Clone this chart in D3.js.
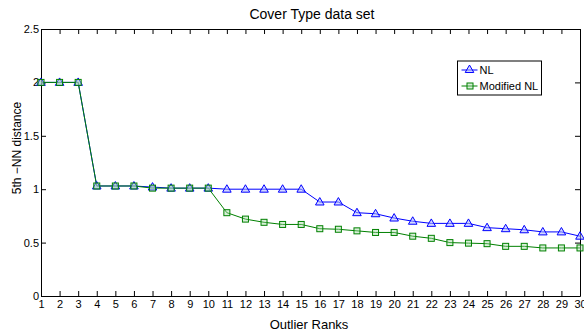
<!DOCTYPE html>
<html>
<head>
<meta charset="utf-8">
<script src="https://cdn.jsdelivr.net/npm/d3@7"></script>
<style>
  body { margin: 0; background: #fff; }
  text { font-family: "Liberation Sans", Arial, sans-serif; fill: #000; }
</style>
</head>
<body>
<div id="chart"></div>
<script>
// Cover Type data set
const ranks = d3.range(1, 31);
const nl = [2.0, 2.0, 2.0, 1.03, 1.03, 1.03, 1.02, 1.01, 1.01, 1.01,
            1.0, 1.0, 1.0, 1.0, 1.0, 0.88, 0.88, 0.78, 0.77, 0.73,
            0.70, 0.68, 0.68, 0.68, 0.64, 0.63, 0.62, 0.60, 0.60, 0.56];
const modNl = [2.0, 2.0, 2.0, 1.03, 1.03, 1.03, 1.01, 1.01, 1.01, 1.01,
               0.78, 0.72, 0.69, 0.67, 0.67, 0.63, 0.625, 0.61, 0.595, 0.595,
               0.56, 0.54, 0.50, 0.495, 0.49, 0.465, 0.465, 0.45, 0.45, 0.45];
const yTicks = [0, 0.5, 1, 1.5, 2, 2.5];

const width = 584, height = 335;
const margin = {top: 29, right: 4, bottom: 39, left: 41};

const svg = d3.select("#chart")
    .append("svg")
    .attr("width", width)
    .attr("height", height);

const x = d3.scaleLinear().domain([1, 30]).range([margin.left, width - margin.right]);
const y = d3.scaleLinear().domain([0, 2.5]).range([height - margin.bottom, margin.top]);

// axes, ticks pointing inward like matlab
svg.append("g")
    .attr("transform", `translate(0,${y(0)})`)
    .call(d3.axisBottom(x).tickValues(ranks).tickFormat(d3.format("d")).tickSizeInner(-5).tickSizeOuter(0).tickPadding(4))
    .call(g => g.selectAll("text").attr("font-size", "11px"));

svg.append("g")
    .attr("transform", `translate(0,${y(2.5)})`)
    .call(d3.axisTop(x).tickValues(ranks).tickFormat("").tickSizeInner(-5).tickSizeOuter(0));

svg.append("g")
    .attr("transform", `translate(${x(1)},0)`)
    .call(d3.axisLeft(y).tickValues(yTicks).tickFormat(d => d).tickSizeInner(-5).tickSizeOuter(0).tickPadding(2))
    .call(g => g.selectAll("text").attr("font-size", "11px"));

svg.append("g")
    .attr("transform", `translate(${x(30)},0)`)
    .call(d3.axisRight(y).tickValues(yTicks).tickFormat("").tickSizeInner(-5).tickSizeOuter(0));

svg.selectAll(".domain").attr("stroke", "#000").attr("stroke-width", 1);
svg.selectAll(".tick line").attr("stroke", "#000");

// lines
const line = d3.line().x((d, i) => x(ranks[i])).y(d => y(d));

svg.append("path")
    .datum(nl)
    .attr("fill", "none")
    .attr("stroke", "#0000ff")
    .attr("stroke-width", 1)
    .attr("d", line);

svg.append("path")
    .datum(modNl)
    .attr("fill", "none")
    .attr("stroke", "#008000")
    .attr("stroke-width", 1)
    .attr("d", line);

const tri = d3.symbol().type(d3.symbolTriangle).size(32);

svg.append("g")
    .selectAll("path")
    .data(nl)
    .enter().append("path")
    .attr("d", tri)
    .attr("transform", (d, i) => `translate(${x(ranks[i])},${y(d) + 0.5})`)
    .attr("fill", "#aab4ff")
    .attr("fill-opacity", 0.5)
    .attr("stroke", "#0000ff")
    .attr("stroke-width", 1);

svg.append("g")
    .selectAll("rect")
    .data(modNl)
    .enter().append("rect")
    .attr("x", (d, i) => x(ranks[i]) - 3)
    .attr("y", d => y(d) - 3)
    .attr("width", 6)
    .attr("height", 6)
    .attr("fill", "#9fd89f")
    .attr("fill-opacity", 0.4)
    .attr("stroke", "#008000")
    .attr("stroke-width", 1);

// title and labels
svg.append("text")
    .attr("x", 312)
    .attr("y", 19)
    .attr("text-anchor", "middle")
    .attr("font-size", "14px")
    .text("Cover Type data set");

svg.append("text")
    .attr("x", 309)
    .attr("y", 329)
    .attr("text-anchor", "middle")
    .attr("font-size", "13px")
    .text("Outlier Ranks");

svg.append("text")
    .attr("transform", "translate(21,148) rotate(-90)")
    .attr("text-anchor", "middle")
    .attr("font-size", "12px")
    .text("5th −NN distance");

// legend
const legend = svg.append("g").attr("transform", "translate(457.5,61)");
legend.append("rect")
    .attr("width", 84)
    .attr("height", 34)
    .attr("fill", "#fff")
    .attr("stroke", "#000")
    .attr("stroke-width", 1);

const items = [
  {name: "NL", color: "#0000ff", sym: "tri"},
  {name: "Modified NL", color: "#008000", sym: "sq"}
];
items.forEach((it, i) => {
  const cy = 9 + i * 16;
  legend.append("line")
      .attr("x1", 4).attr("x2", 20)
      .attr("y1", cy).attr("y2", cy)
      .attr("stroke", it.color);
  if (it.sym === "tri") {
    legend.append("path")
        .attr("d", tri)
        .attr("transform", `translate(12,${cy})`)
        .attr("fill", "#aab4ff").attr("fill-opacity", 0.5)
        .attr("stroke", it.color);
  } else {
    legend.append("rect")
        .attr("x", 9.5).attr("y", cy - 3).attr("width", 6).attr("height", 6)
        .attr("fill", "#9fd89f").attr("fill-opacity", 0.4)
        .attr("stroke", it.color);
  }
  legend.append("text")
      .attr("x", 22)
      .attr("y", cy + 4)
      .attr("font-size", "11px")
      .text(it.name);
});
</script>
</body>
</html>
